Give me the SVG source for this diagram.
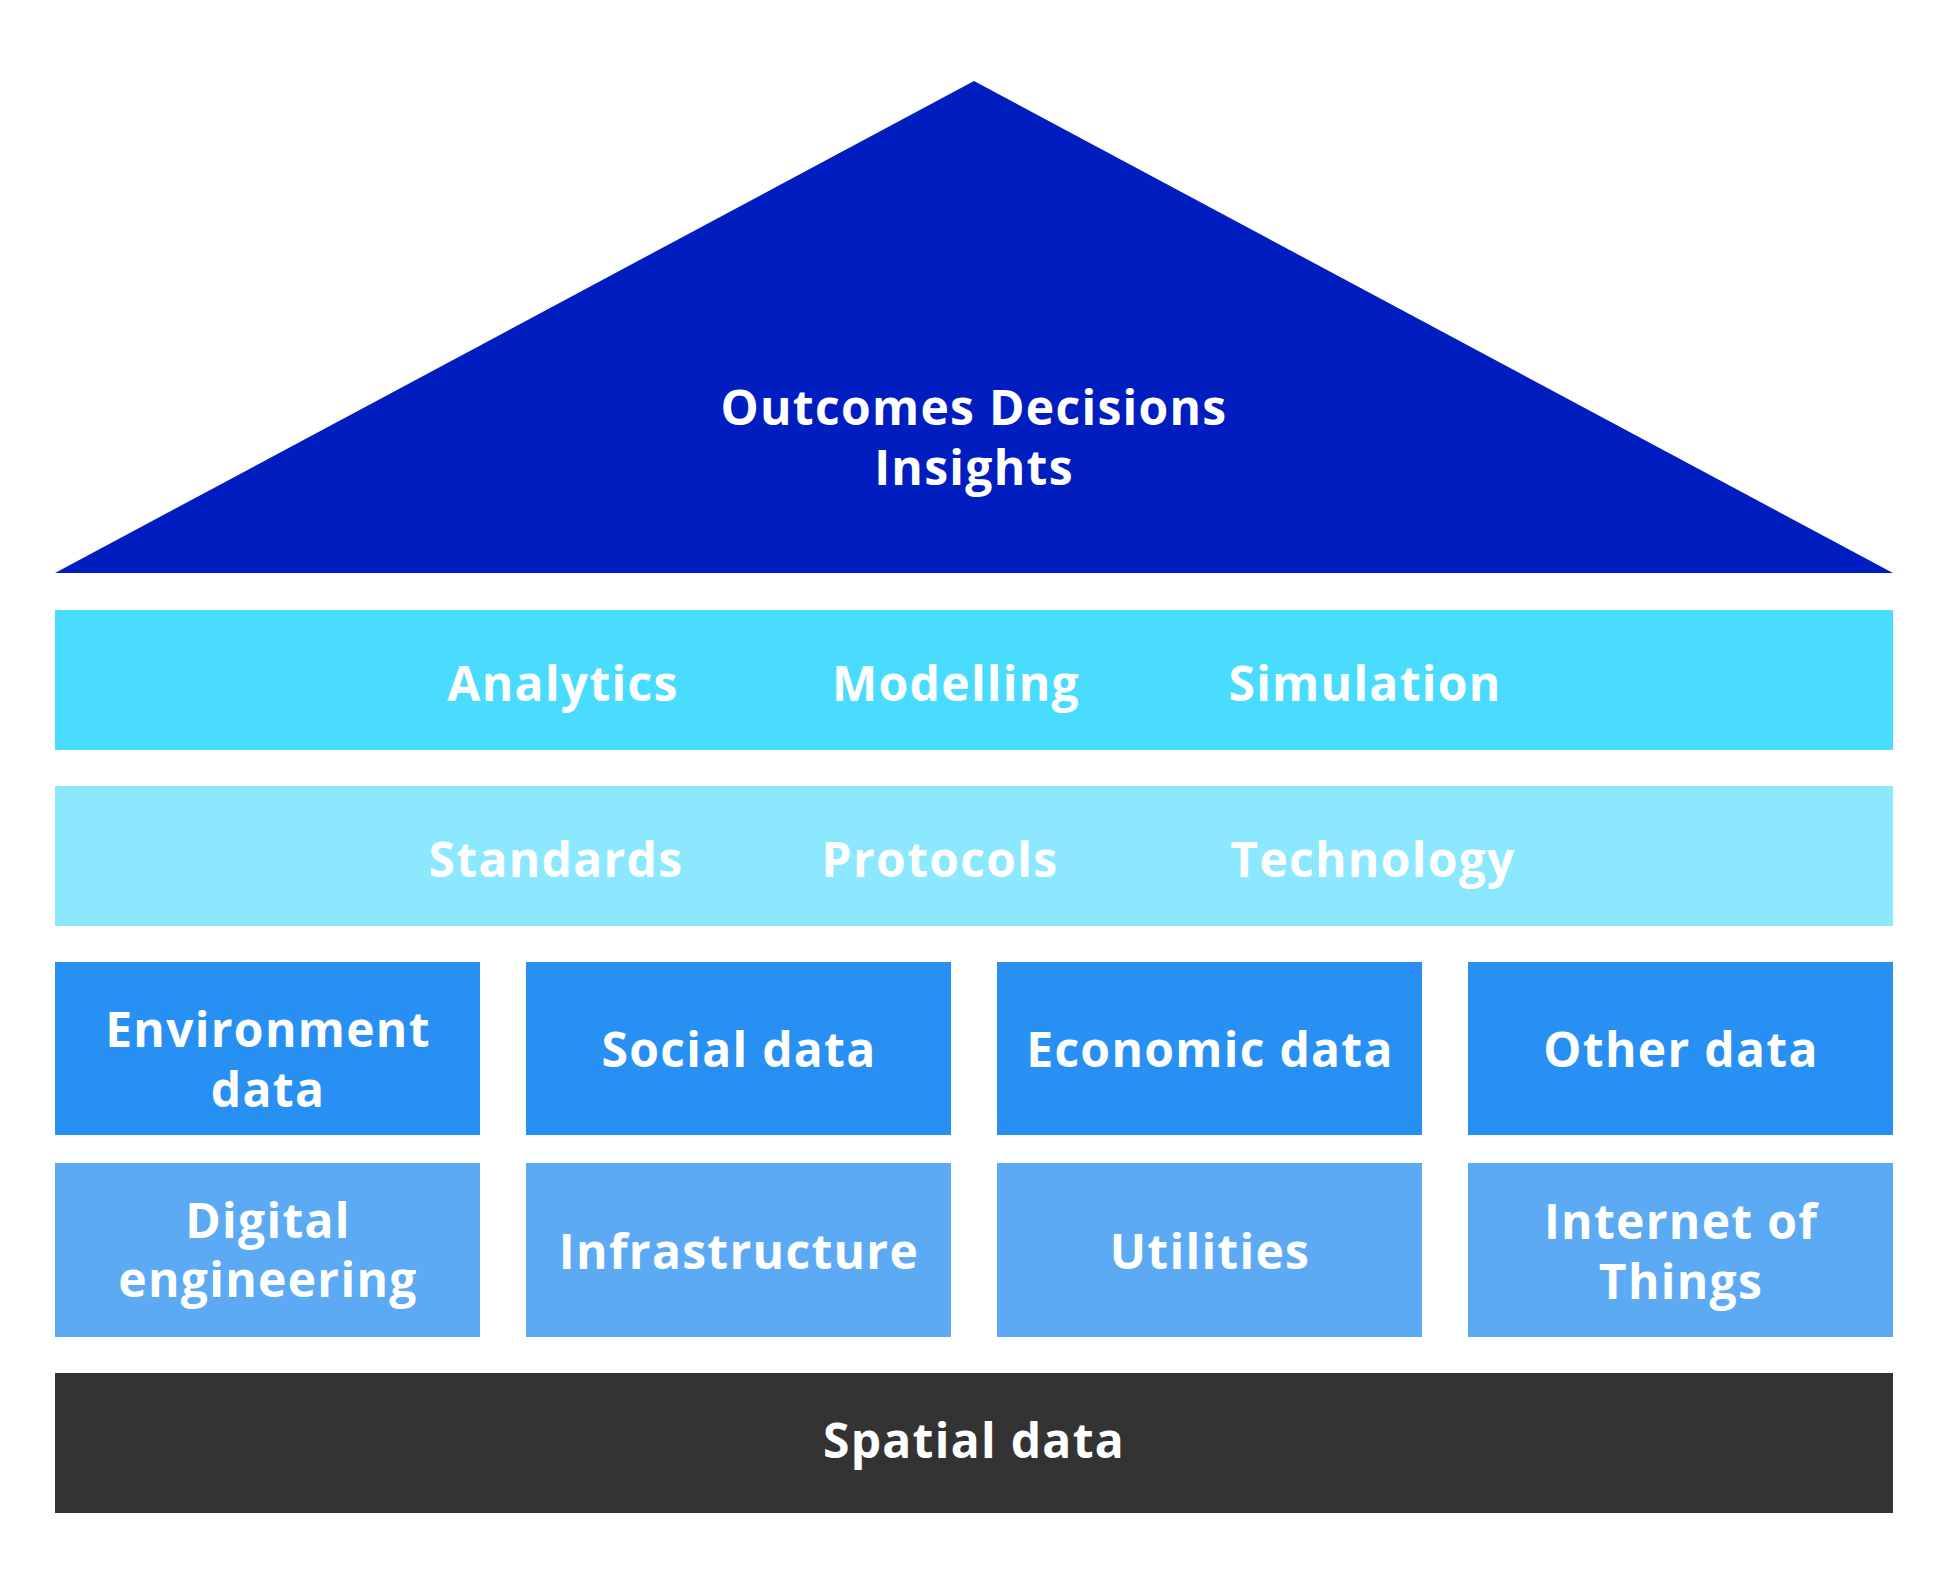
<svg xmlns="http://www.w3.org/2000/svg" width="1949" height="1594" viewBox="0 0 1949 1594">
<style>
text{font-family:"Open Sans","Liberation Sans",sans-serif;font-weight:700;font-size:48px;fill:#ffffff;text-anchor:middle;letter-spacing:1.3px}
.c1{fill:#2790F2}
.c2{fill:#5DAAF4}
</style>
<rect width="1949" height="1594" fill="#ffffff"/>
<g id="roof">
<polygon points="974,81 1893,573 55,573" fill="#001EBF"/>
<text x="974" y="425">Outcomes Decisions</text>
<text x="974" y="485">Insights</text>
</g>
<g id="analytics-band">
<rect x="55" y="610" width="1838" height="140" fill="#4ADCFF"/>
<text x="563" y="701">Analytics</text>
<text x="956" y="701">Modelling</text>
<text x="1365" y="701">Simulation</text>
</g>
<g id="standards-band">
<rect x="55" y="786" width="1838" height="140" fill="#8BE8FF"/>
<text x="556" y="877">Standards</text>
<text x="940" y="877">Protocols</text>
<text x="1373" y="877">Technology</text>
</g>
<g id="environment-data">
<rect class="c1" x="55" y="962" width="425" height="173"/>
<text x="268" y="1047">Environment</text>
<text x="268" y="1107">data</text>
</g>
<g id="social-data">
<rect class="c1" x="526" y="962" width="425" height="173"/>
<text x="739" y="1067">Social data</text>
</g>
<g id="economic-data">
<rect class="c1" x="997" y="962" width="425" height="173"/>
<text x="1210" y="1067">Economic data</text>
</g>
<g id="other-data">
<rect class="c1" x="1468" y="962" width="425" height="173"/>
<text x="1681" y="1067">Other data</text>
</g>
<g id="digital-engineering">
<rect class="c2" x="55" y="1163" width="425" height="174"/>
<text x="268" y="1238">Digital</text>
<text x="268" y="1297">engineering</text>
</g>
<g id="infrastructure">
<rect class="c2" x="526" y="1163" width="425" height="174"/>
<text x="739" y="1269">Infrastructure</text>
</g>
<g id="utilities">
<rect class="c2" x="997" y="1163" width="425" height="174"/>
<text x="1210" y="1269">Utilities</text>
</g>
<g id="internet-of-things">
<rect class="c2" x="1468" y="1163" width="425" height="174"/>
<text x="1681" y="1239">Internet of</text>
<text x="1681" y="1299">Things</text>
</g>
<g id="spatial-data">
<rect x="55" y="1373" width="1838" height="140" fill="#333333"/>
<text x="974" y="1458">Spatial data</text>
</g>
<g id="connectors"></g>
</svg>
